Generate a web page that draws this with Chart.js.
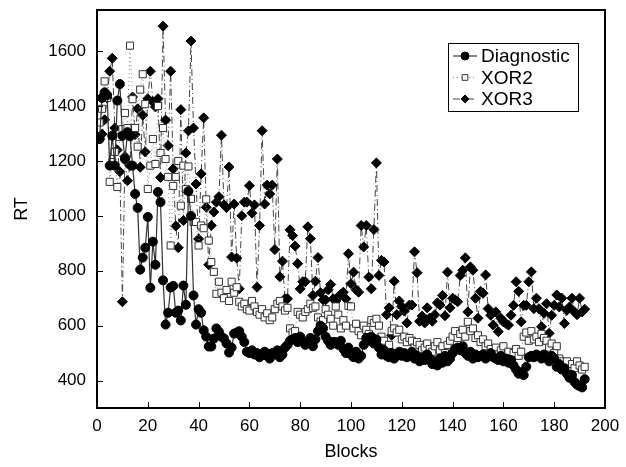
<!DOCTYPE html>
<html>
<head>
<meta charset="utf-8">
<script src="https://cdn.jsdelivr.net/npm/chart.js@4.4.1/dist/chart.umd.min.js"></script>
<style>
	html, body { margin: 0; padding: 0; background: #fff; }
	#wrap { width: 626px; height: 467px; }
</style>
</head>
<body>
<div id="wrap"><canvas id="rtChart" width="626" height="467"></canvas></div>
<script>
// block numbers 1..192
const blocks = [];
for (let b = 1; b <= 192; b++) blocks.push(b);

const diagnostic = [
	1280, 1430, 1450, 1440, 1183, 1292, 1183, 1420, 1480, 1292,
	1207, 1305, 1290, 1183, 1080, 1029, 804, 848, 884, 996,
	738, 906, 822, 1087, 1050, 765, 604, 647, 739, 745,
	647, 655, 619, 746, 676, 1090, 1000, 710, 604, 660,
	647, 583, 560, 524, 524, 553, 590, 578, 560, 553,
	535, 502, 520, 571, 575, 580, 560, 540, 505, 500,
	510, 495, 500, 485, 498, 505, 490, 480, 500, 495,
	510, 485, 495, 520, 530, 545, 550, 555, 540, 560,
	545, 530, 540, 555, 525, 550, 580, 600, 590, 560,
	545, 530, 540, 540, 530, 545, 515, 500, 520, 495,
	485, 505, 480, 490, 530, 555, 545, 560, 535, 550,
	520, 495, 510, 490, 485, 500, 480, 495, 505, 490,
	500, 485, 495, 505, 480, 490, 470, 485, 475, 495,
	480, 460, 470, 455, 480, 465, 490, 470, 480, 500,
	515, 520, 510, 525, 500, 490, 505, 480, 495, 485,
	490, 495, 480, 490, 500, 485, 480, 475, 490, 470,
	480, 465, 475, 455, 440, 425, 430, 420, 450, 485,
	490, 485, 495, 490, 480, 495, 485, 470, 490, 480,
	450, 460, 440, 445, 425, 410, 420, 395, 385, 380,
	375, 405
];

const xor2 = [
	1340, 1390, 1490, 1430, 1124, 1196, 1233, 1105, 1287, 1316,
	1375, 1320, 1620, 1425, 1320, 1252, 1460, 1516, 1407, 1098,
	1183, 1280, 1189, 1400, 1229, 1320, 1207, 1142, 892, 1109,
	1142, 1200, 1037, 1183, 1098, 1180, 1062, 978, 978, 892,
	965, 955, 1060, 910, 832, 796, 716, 760, 720, 700,
	730, 690, 760, 720, 740, 687, 670, 680, 660, 655,
	690, 670, 650, 640, 660, 630, 645, 620, 630, 660,
	680, 690, 670, 655, 665, 590, 575, 580, 650, 640,
	630, 650, 660, 680, 665, 670, 630, 615, 620, 660,
	640, 625, 600, 670, 640, 590, 620, 600, 672, 670,
	590, 607, 580, 565, 600, 585, 570, 620, 610, 625,
	600, 560, 545, 515, 530, 580, 590, 575, 585, 550,
	560, 540, 555, 545, 520, 540, 530, 510, 520, 535,
	515, 505, 525, 540, 510, 525, 500, 530, 545, 560,
	580, 555, 570, 585, 560, 614, 580, 590, 555, 565,
	540, 550, 525, 535, 515, 500, 520, 495, 510, 525,
	490, 505, 480, 500, 515, 490, 505, 560, 575, 545,
	580, 550, 560, 540, 570, 555, 545, 520, 535, 500,
	525, 480, 470, 455, 470, 440, 460, 445, 470, 455,
	440, 450
];

const xor3 = [
	1280, 1298, 1350, 1429, 1527, 1574, 1320, 1240, 1161, 687,
	1216, 1128, 1183, 1433, 1296, 1390, 1177, 1367, 1233, 1427,
	1527, 1416, 1397, 1427, 1140, 1691, 1349, 1256, 1527, 1171,
	963, 884, 1387, 983, 1229, 1310, 1637, 1320, 1116, 916,
	1153, 1357, 1031, 822, 965, 1014, 1050, 1070, 1294, 1040,
	1030, 1178, 850, 1043, 846, 734, 1000, 1050, 1050, 1110,
	1010, 1040, 740, 965, 1310, 1043, 1112, 1080, 1112, 877,
	1207, 778, 835, 698, 698, 949, 928, 890, 826, 734,
	760, 760, 960, 917, 710, 762, 848, 720, 694, 694,
	731, 750, 698, 690, 705, 715, 722, 698, 862, 753,
	795, 731, 722, 965, 887, 965, 777, 734, 950, 1193,
	783, 838, 832, 640, 665, 565, 762, 640, 690, 670,
	653, 610, 675, 675, 869, 793, 616, 635, 610, 665,
	628, 616, 640, 683, 675, 710, 636, 795, 665, 700,
	694, 687, 783, 802, 847, 650, 814, 802, 700, 627,
	725, 718, 785, 662, 638, 602, 650, 578, 627, 614,
	608, 602, 638, 674, 760, 725, 614, 674, 674, 760,
	796, 662, 700, 662, 596, 645, 680, 572, 638, 674,
	712, 668, 700, 608, 656, 668, 700, 650, 640, 700,
	650, 660
];

const seriesNames = ['Diagnostic', 'XOR2', 'XOR3'];
const xTicks = [0, 20, 40, 60, 80, 100, 120, 140, 160, 180, 200];
const yTicks = [400, 600, 800, 1000, 1200, 1400, 1600];

const FONT = '"Liberation Sans", Arial, sans-serif';

function toPoints(values) {
	return values.map((v, i) => ({ x: blocks[i], y: v }));
}

// plot frame + inward tick marks
const frameTicks = {
	id: 'frameTicks',
	afterDraw(chart) {
		const { ctx, chartArea: a, scales } = chart;
		ctx.save();
		ctx.strokeStyle = '#000';
		ctx.lineWidth = 1;
		ctx.beginPath();
		xTicks.forEach(v => {
			const px = Math.round(scales.x.getPixelForValue(v)) + 0.5;
			ctx.moveTo(px, a.bottom);
			ctx.lineTo(px, a.bottom - 6);
		});
		yTicks.forEach(v => {
			const py = Math.round(scales.y.getPixelForValue(v)) + 0.5;
			ctx.moveTo(a.left, py);
			ctx.lineTo(a.left + 6, py);
		});
		ctx.stroke();
		ctx.lineWidth = 2;
		ctx.strokeRect(a.left, a.top, a.right - a.left, a.bottom - a.top);
		ctx.restore();
	}
};

// boxed legend inside the plot: line sample + marker + name
const boxLegend = {
	id: 'boxLegend',
	afterDraw(chart) {
		const { ctx } = chart;
		const bx = 448, by = 43, bw = 130, bh = 68;
		ctx.save();
		ctx.fillStyle = '#fff';
		ctx.fillRect(bx, by, bw, bh);
		ctx.strokeStyle = '#000';
		ctx.lineWidth = 1;
		ctx.strokeRect(bx + 0.5, by + 0.5, bw, bh);
		chart.data.datasets.forEach((ds, i) => {
			const cy = by + 13 + i * 21.5;
			ctx.save();
			ctx.strokeStyle = ds.borderColor;
			ctx.lineWidth = ds.borderWidth;
			ctx.setLineDash(ds.borderDash || []);
			ctx.beginPath();
			ctx.moveTo(bx + 5, cy);
			ctx.lineTo(bx + 29, cy);
			ctx.stroke();
			ctx.restore();
			ctx.setLineDash([]);
			ctx.fillStyle = ds.pointBackgroundColor;
			ctx.strokeStyle = ds.pointBorderColor;
			ctx.lineWidth = ds.pointBorderWidth;
			Chart.helpers.drawPoint(ctx, {
				pointStyle: ds.pointStyle,
				radius: ds.pointRadius - (i === 0 ? 0.5 : 1),
				borderWidth: ds.pointBorderWidth
			}, bx + 17, cy);
			ctx.fillStyle = '#000';
			ctx.font = '19px ' + FONT;
			ctx.textBaseline = 'middle';
			ctx.fillText(seriesNames[i], bx + 33, cy + 1);
		});
		ctx.restore();
	}
};

const ctx = document.getElementById('rtChart').getContext('2d');
const chart = new Chart(ctx, {
	type: 'line',
	data: {
		datasets: [{
			label: seriesNames[0],
			data: toPoints(diagnostic),
			borderColor: '#333',
			borderWidth: 1.2,
			pointStyle: 'circle',
			pointRadius: 4.5,
			pointBackgroundColor: '#000',
			pointBorderColor: '#000',
			pointBorderWidth: 1
		}, {
			label: seriesNames[1],
			data: toPoints(xor2),
			borderColor: '#888',
			borderWidth: 1,
			borderDash: [1, 3],
			pointStyle: 'rect',
			pointRadius: 5,
			pointBackgroundColor: '#fff',
			pointBorderColor: '#333',
			pointBorderWidth: 1
		}, {
			label: seriesNames[2],
			data: toPoints(xor3),
			borderColor: '#444',
			borderWidth: 1,
			borderDash: [7, 3, 1, 3],
			pointStyle: 'rectRot',
			pointRadius: 5,
			pointBackgroundColor: '#000',
			pointBorderColor: '#000',
			pointBorderWidth: 1
		}]
	},
	options: {
		responsive: false,
		animation: false,
		devicePixelRatio: 1,
		layout: { autoPadding: false, padding: { left: 0, top: 10, right: 21, bottom: 0 } },
		plugins: {
			legend: { display: false },
			tooltip: { enabled: false }
		},
		scales: {
			x: {
				type: 'linear',
				min: 0,
				max: 200,
				afterBuildTicks: s => { s.ticks = xTicks.map(v => ({ value: v })); },
				afterFit: s => { s.height = 59; s.paddingLeft = 0; s.paddingRight = 0; },
				grid: { display: false, drawTicks: false },
				border: { display: false },
				ticks: { color: '#000', font: { family: FONT, size: 17 }, padding: 8, maxRotation: 0, callback: v => String(v) },
				title: { display: true, text: 'Blocks', color: '#000', font: { family: FONT, size: 18 }, padding: { top: 0, bottom: 4 } }
			},
			y: {
				type: 'linear',
				min: 300,
				max: 1750,
				afterBuildTicks: s => { s.ticks = yTicks.map(v => ({ value: v })); },
				afterFit: s => { s.width = 97; s.paddingTop = 0; s.paddingBottom = 0; },
				grid: { display: false, drawTicks: false },
				border: { display: false },
				ticks: { color: '#000', font: { family: FONT, size: 17 }, padding: 11, callback: v => String(v) },
				title: { display: true, text: 'RT', color: '#000', font: { family: FONT, size: 18 }, padding: { top: 11, bottom: 0 } }
			}
		}
	},
	plugins: [frameTicks, boxLegend]
});
</script>
</body>
</html>
